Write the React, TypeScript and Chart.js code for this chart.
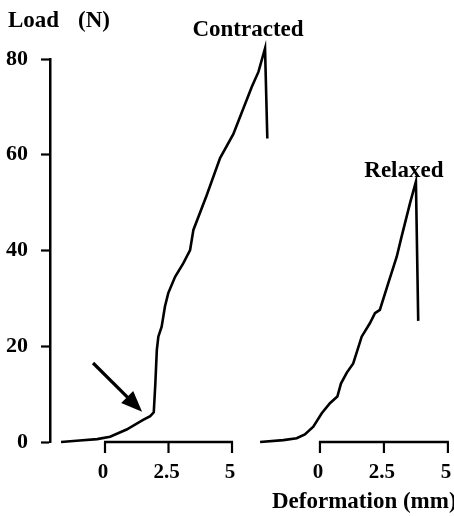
import React, { useEffect, useRef } from "react";
import { Chart, registerables } from "chart.js";

Chart.register(...registerables);

// ---- data (deformation in mm, load in N) ----
const contractedX = [-1.73, -1.0, -0.31, 0.2, 0.85, 1.5, 1.78, 1.92, 1.98, 2.04, 2.1, 2.23, 2.36, 2.49, 2.76, 3.08, 3.35, 3.48, 4.0, 4.53, 5.05, 5.78, 6.04, 6.3, 6.39];
const contractedLoad = [0, 0.3, 0.6, 1.1, 2.6, 4.6, 5.4, 6.2, 12, 19.2, 22.0, 24.1, 28.3, 31.1, 34.5, 37.3, 40.1, 44.3, 51.5, 59.3, 64.3, 74.2, 77.3, 82.2, 63.4];

const relaxedX = [-2.34, -1.43, -0.91, -0.59, -0.26, 0.07, 0.39, 0.68, 0.82, 1.05, 1.3, 1.63, 1.95, 2.15, 2.34, 2.67, 3.0, 3.19, 3.52, 3.75, 3.84];
const relaxedLoad = [0, 0.4, 0.8, 1.6, 3.2, 6.0, 8.1, 9.5, 12.2, 14.5, 16.4, 22, 24.8, 26.9, 27.6, 33.2, 38.7, 42.9, 49.9, 54.4, 25.3];

const seriesNames = ["Contracted", "Relaxed"];
// label baselines, in each panel's data coordinates
const seriesLabelPos = [
  { x: 5.63, y: 84.7 },
  { x: 3.28, y: 55.4 },
];
const yTickValues = [0, 20, 40, 60, 80];
const xTickValues = [0, 2.5, 5];
const xTickLabels = ["0", "2.5", "5"];
const yTitleParts = ["Load", "(N)"];
const xTitle = "Deformation (mm)";
// arrow annotation in Contracted-panel data coordinates
const arrowFrom = { x: -0.47, y: 16.5 };
const arrowTo = { x: 1.46, y: 6.3 };

const FONT = '"Liberation Serif", "Times New Roman", Times, serif';

const decorPlugin = {
  id: "decor",
  afterDatasetsDraw(chart: any) {
    const ctx = chart.ctx;
    const ys = chart.scales.y;
    const y0 = ys.getPixelForValue(0);
    ctx.save();
    ctx.strokeStyle = "#000";
    ctx.fillStyle = "#000";

    // two x-axis segments
    ["x1", "x2"].forEach((id) => {
      const s = chart.scales[id];
      const a = s.getPixelForValue(xTickValues[0]);
      const b = s.getPixelForValue(xTickValues[xTickValues.length - 1]);
      ctx.lineWidth = 2.5;
      ctx.beginPath();
      ctx.moveTo(a - 1, y0);
      ctx.lineTo(b + 1, y0);
      ctx.stroke();
      ctx.lineWidth = 2.2;
      ctx.font = `bold 21px ${FONT}`;
      ctx.textAlign = "center";
      ctx.textBaseline = "alphabetic";
      xTickValues.forEach((v, i) => {
        const px = s.getPixelForValue(v);
        ctx.beginPath();
        ctx.moveTo(px, y0);
        ctx.lineTo(px, y0 + 11);
        ctx.stroke();
        ctx.fillText(xTickLabels[i], px - 2, y0 + 36);
      });
    });

    // series labels
    ctx.font = `bold 23px ${FONT}`;
    ctx.textAlign = "center";
    ctx.textBaseline = "alphabetic";
    ["x1", "x2"].forEach((id, i) => {
      const s = chart.scales[id];
      ctx.fillText(seriesNames[i], s.getPixelForValue(seriesLabelPos[i].x), ys.getPixelForValue(seriesLabelPos[i].y));
    });

    // axis titles
    ctx.textAlign = "left";
    ctx.fillText(yTitleParts[0], 8, 27);
    ctx.fillText(yTitleParts[1], 78, 27);
    ctx.fillText(xTitle, 272, 508);

    // arrow
    const s1 = chart.scales.x1;
    const tx = s1.getPixelForValue(arrowTo.x);
    const ty = ys.getPixelForValue(arrowTo.y);
    const fx = s1.getPixelForValue(arrowFrom.x);
    const fy = ys.getPixelForValue(arrowFrom.y);
    const dx = tx - fx;
    const dy = ty - fy;
    const len = Math.hypot(dx, dy);
    const ux = dx / len;
    const uy = dy / len;
    const headLen = 21;
    const headHalf = 8.5;
    const bx = tx - ux * headLen;
    const by = ty - uy * headLen;
    ctx.lineWidth = 3.2;
    ctx.beginPath();
    ctx.moveTo(fx, fy);
    ctx.lineTo(bx + ux * 2, by + uy * 2);
    ctx.stroke();
    ctx.beginPath();
    ctx.moveTo(tx, ty);
    ctx.lineTo(bx - uy * headHalf, by + ux * headHalf);
    ctx.lineTo(bx + uy * headHalf, by - ux * headHalf);
    ctx.closePath();
    ctx.fill();

    ctx.restore();
  },
};

export default function App() {
  const ref = useRef<HTMLCanvasElement | null>(null);

  useEffect(() => {
    if (!ref.current) return;
    const chart = new Chart(ref.current, {
      type: "scatter",
      data: {
        datasets: [
          {
            label: seriesNames[0],
            data: contractedX.map((x, i) => ({ x, y: contractedLoad[i] })),
            xAxisID: "x1",
            yAxisID: "y",
            showLine: true,
            borderColor: "#000",
            borderWidth: 2.6,
            pointRadius: 0,
            tension: 0,
            clip: false as any,
          },
          {
            label: seriesNames[1],
            data: relaxedX.map((x, i) => ({ x, y: relaxedLoad[i] })),
            xAxisID: "x2",
            yAxisID: "y",
            showLine: true,
            borderColor: "#000",
            borderWidth: 2.6,
            pointRadius: 0,
            tension: 0,
            clip: false as any,
          },
        ],
      },
      options: {
        animation: false,
        responsive: false,
        maintainAspectRatio: false,
        layout: { padding: { left: 0, top: 59, right: 2, bottom: 74 } },
        plugins: {
          legend: { display: false },
          tooltip: { enabled: false },
          title: { display: false },
        },
        scales: {
          x1: {
            type: "linear",
            position: "bottom",
            display: false,
            min: -2.165,
            max: 13.66,
          },
          x2: {
            type: "linear",
            position: "bottom",
            display: false,
            min: -10.55,
            max: 5.16,
          },
          y: {
            type: "linear",
            position: "left",
            min: 0,
            max: 80,
            afterFit: (scale: any) => {
              scale.width = 50;
            },
            afterBuildTicks: (scale: any) => {
              scale.ticks = yTickValues.map((v) => ({ value: v }));
            },
            border: { display: true, color: "#000", width: 2.5 },
            grid: {
              display: true,
              drawOnChartArea: false,
              drawTicks: true,
              tickLength: 9,
              tickWidth: 2.2,
              tickColor: "#000",
              color: "#000",
            },
            ticks: {
              color: "#000",
              padding: 13,
              font: { family: FONT, size: 22, weight: "bold" },
            },
          },
        },
      },
      plugins: [decorPlugin],
    });
    return () => chart.destroy();
  }, []);

  return (
    <div style={{ position: "fixed", left: 0, top: 0, width: 454, height: 516, background: "#fff" }}>
      <canvas ref={ref} width={454} height={516} style={{ display: "block" }} />
    </div>
  );
}
